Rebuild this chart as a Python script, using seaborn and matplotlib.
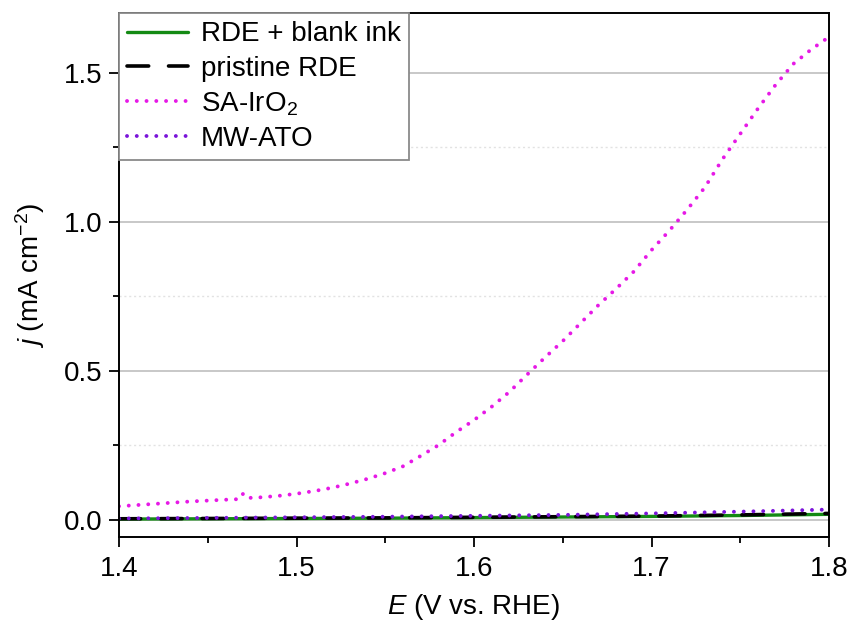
import numpy as np
import pandas as pd
import matplotlib
matplotlib.use("Agg")
import matplotlib.pyplot as plt
from matplotlib.ticker import MultipleLocator, FormatStrFormatter
import seaborn as sns

# Potential (V vs. RHE) and current density (mA cm^-2) for each electrode
E_ir = [1.400, 1.410, 1.420, 1.430, 1.440, 1.450, 1.460, 1.468, 1.470, 1.473,
        1.480, 1.490, 1.500, 1.510, 1.520, 1.530, 1.540, 1.550, 1.560, 1.570,
        1.580, 1.590, 1.600, 1.610, 1.620, 1.630, 1.640, 1.650, 1.660, 1.670,
        1.680, 1.690, 1.700, 1.710, 1.720, 1.730, 1.740, 1.750, 1.760, 1.770,
        1.780, 1.790, 1.800]
j_ir = [0.046, 0.050, 0.054, 0.058, 0.062, 0.065, 0.068, 0.070, 0.089, 0.074,
        0.076, 0.081, 0.088, 0.097, 0.108, 0.122, 0.138, 0.157, 0.180, 0.215,
        0.251, 0.295, 0.335, 0.380, 0.430, 0.488, 0.545, 0.600, 0.660, 0.720,
        0.775, 0.833, 0.905, 0.970, 1.040, 1.115, 1.210, 1.295, 1.380, 1.460,
        1.530, 1.578, 1.620]

E_ref = [1.40, 1.45, 1.50, 1.55, 1.60, 1.65, 1.70, 1.75, 1.80]
j_blank = [0.003, 0.004, 0.005, 0.006, 0.008, 0.010, 0.012, 0.015, 0.019]
j_pristine = [0.004, 0.005, 0.006, 0.007, 0.009, 0.011, 0.013, 0.017, 0.022]
j_ato = [0.005, 0.007, 0.009, 0.011, 0.014, 0.017, 0.022, 0.028, 0.035]

labels = ["RDE + blank ink", "pristine RDE", "SA-IrO$_2$", "MW-ATO"]
colors = ["#148a14", "#000000", "#e619e6", "#7a14d9"]

sns.set_theme(style="ticks")
plt.rcParams["font.family"] = ["Liberation Sans", "DejaVu Sans"]
plt.rcParams["mathtext.fontset"] = "custom"
plt.rcParams["mathtext.rm"] = "Liberation Sans"
plt.rcParams["mathtext.it"] = "Liberation Sans:italic"
plt.rcParams["text.color"] = "black"
plt.rcParams["axes.labelcolor"] = "black"

FS = 20

fig = plt.figure(figsize=(8.53, 6.26), dpi=100)
ax = fig.add_axes([0.1395, 0.1422, 0.8324, 0.8370])

series = [
    (E_ref, j_blank, labels[0], colors[0], None, 2.4),
    (E_ref, j_pristine, labels[1], colors[1], (6.0, 5.5), 2.6),
    (E_ir, j_ir, labels[2], colors[2], (0.01, 2.5), 2.8),
    (E_ref, j_ato, labels[3], colors[3], (0.01, 2.5), 2.8),
]

for E, j, lab, col, dashes, lw in series:
    df = pd.DataFrame({"E": E, "j": j})
    sns.lineplot(data=df, x="E", y="j", ax=ax, color=col, linewidth=lw, label=lab)
    line = ax.lines[-1]
    if dashes is not None:
        line.set_dashes(dashes)
        line.set_dash_capstyle("round")

ax.set_xlim(1.4, 1.8)
ax.set_ylim(-0.057, 1.70)
ax.xaxis.set_major_locator(MultipleLocator(0.1))
ax.xaxis.set_minor_locator(MultipleLocator(0.05))
ax.yaxis.set_major_locator(MultipleLocator(0.5))
ax.yaxis.set_minor_locator(MultipleLocator(0.25))

ax.grid(axis="y", which="major", color="#c4c4c4", linewidth=1.3, linestyle="-")
ax.grid(axis="y", which="minor", color="#e2e2e2", linewidth=1.0, linestyle=(0, (1.5, 2)))
ax.set_axisbelow(True)

for sp in ax.spines.values():
    sp.set_visible(True)
    sp.set_color("black")
    sp.set_linewidth(1.4)

ax.tick_params(which="major", direction="out", length=7, width=1.3,
               labelsize=FS, colors="black", pad=5)
ax.tick_params(axis="x", which="major", pad=7)
ax.tick_params(which="minor", direction="out", length=4, width=1.3, colors="black")
ax.xaxis.set_major_formatter(FormatStrFormatter("%.1f"))
ax.yaxis.set_major_formatter(FormatStrFormatter("%.1f"))

ax.set_xlabel("$E$ (V vs. RHE)", fontsize=FS, labelpad=7)
ax.set_ylabel("$j$ (mA cm$^{-2}$)", fontsize=FS, labelpad=12)

leg = ax.legend(loc="upper left", bbox_to_anchor=(0, 1), borderaxespad=0,
                fontsize=FS, handlelength=2.2, handletextpad=0.45,
                labelspacing=0.3, borderpad=0.3, fancybox=False,
                framealpha=1, edgecolor="#8a8a8a")
leg.get_frame().set_linewidth(1.3)
for t in leg.get_texts():
    t.set_color("black")

fig.savefig("out.png", dpi=100)
